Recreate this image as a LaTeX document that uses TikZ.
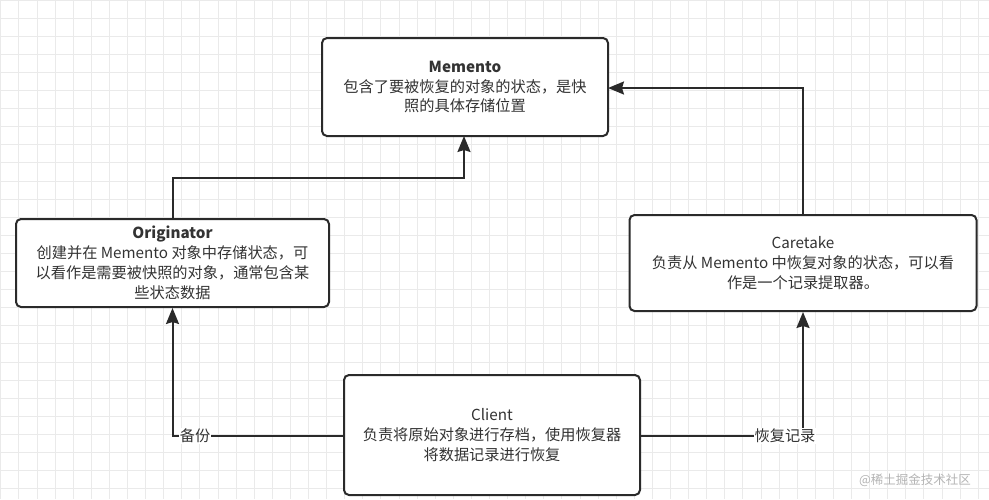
\documentclass[tikz,border=0pt]{standalone}
\usepackage{fontspec}
\setmainfont{Noto Sans CJK SC}
\usetikzlibrary{arrows.meta}
\definecolor{gridc}{HTML}{EAEAEA}
\definecolor{linec}{HTML}{2A2A2A}
\definecolor{textc}{HTML}{333333}
\definecolor{wmc}{HTML}{B4B4B4}
\tikzset{
  box/.style={draw=linec, line width=2pt, rounded corners=5pt, fill=white,
    text=textc, align=center, inner sep=0pt,
    font=\fontsize{15.2}{19.8}\selectfont},
  conn/.style={draw=linec, line width=2pt, -{Stealth[length=16pt,width=13pt,inset=2pt]}},
  lbl/.style={fill=white, text=textc, inner sep=1pt, font=\fontsize{15.2}{18}\selectfont},
}
\begin{document}
\begin{tikzpicture}[x=1pt,y=-1pt]
\useasboundingbox (0,0) rectangle (989,499);
\fill[white] (0,0) rectangle (989,499);
% grid
\foreach \i in {0,...,54} {
  \draw[gridc, line width=0.9pt] ({0.8+18.1*\i},0) -- ({0.8+18.1*\i},499);
}
\foreach \j in {0,...,27} {
  \draw[gridc, line width=0.9pt] (0,{18.1*\j}) -- (989,{18.1*\j});
}
% boxes
\node[box, minimum width=286pt, minimum height=98pt] (mem) at (465,87)
  {\textbf{Memento}\\包含了要被恢复的对象的状态，是快\\照的具体存储位置};
\node[box, minimum width=313pt, minimum height=88pt] (orig) at (172.5,263)
  {\textbf{Originator}\\创建并在 Memento 对象中存储状态，可\\以看作是需要被快照的对象，通常包含某\\些状态数据};
\node[box, minimum width=347pt, minimum height=96pt] (care) at (803,263)
  {Caretake\\负责从 Memento 中恢复对象的状态，可以看\\作是一个记录提取器。};
\node[box, minimum width=296pt, minimum height=120pt] (cli) at (492,435)
  {Client\\负责将原始对象进行存档，使用恢复器\\将数据记录进行恢复};
% junction coordinates
\coordinate (j1) at (172.5,178);
\coordinate (j2) at (464,178);
\coordinate (m1) at (464,136);
\coordinate (j3) at (803,88);
\coordinate (m2) at (608,88);
\coordinate (j4) at (172.5,435.7);
\coordinate (j5) at (803,435.7);
% connectors
\draw[conn] (orig.north) -- (j1) -- (j2) -- (m1);
\draw[conn] (care.north) -- (j3) -- (m2);
\draw[conn] (cli.west |- j4) -- (j4) -- (orig.south);
\draw[conn] (cli.east |- j5) -- (j5) -- (care.south);
% labels
\node[lbl] (lb1) at (195,436) {备份};
\node[lbl] (lb2) at (785,436) {恢复记录};
% watermark
\node[text=wmc, inner sep=0pt, font=\fontsize{12.5}{14}\selectfont] (wm) at (915,480) {@稀土掘金技术社区};
\end{tikzpicture}
\end{document}
